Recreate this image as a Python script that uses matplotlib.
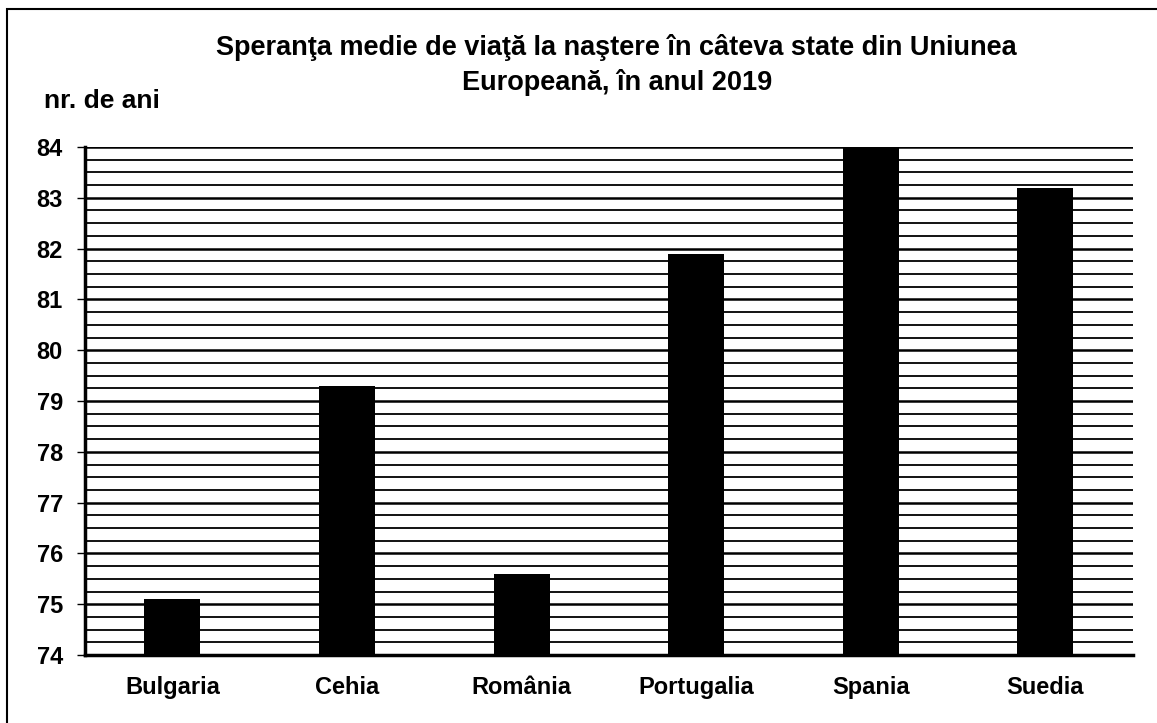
import matplotlib.pyplot as plt
from matplotlib.ticker import MultipleLocator
from matplotlib.patches import Rectangle

countries = ['Bulgaria', 'Cehia', 'România', 'Portugalia', 'Spania', 'Suedia']
values = [75.1, 79.3, 75.6, 81.9, 84.0, 83.2]

plt.rcParams['font.family'] = ['Liberation Sans', 'DejaVu Sans']
plt.rcParams['font.weight'] = 'bold'

fig = plt.figure(figsize=(11.57, 7.23), dpi=100)
ax = fig.add_axes([0.0735, 0.094, 0.9055, 0.7027])

# outer frame (only left/top visible in the original)
fig.patches.append(Rectangle((0.006, -0.1), 1.2, 1.088, transform=fig.transFigure,
                             fill=False, edgecolor='black', linewidth=1.5))

x = range(len(countries))
ax.bar(x, values, width=0.32, color='black', bottom=0)
ax.set_xlim(-0.5, len(countries) - 0.5)
ax.set_ylim(74, 84)

ax.yaxis.set_major_locator(MultipleLocator(1))
ax.yaxis.set_minor_locator(MultipleLocator(0.25))
ax.grid(True, which='major', axis='y', color='black', linewidth=1.8)
ax.grid(True, which='minor', axis='y', color='black', linewidth=1.3)
ax.set_axisbelow(True)

ax.set_xticks(list(x))
ax.set_xticklabels(countries, fontsize=17, fontweight='bold')
ax.tick_params(axis='x', length=0, pad=15)
ax.tick_params(axis='y', which='major', length=6, width=1, labelsize=17, pad=10)
ax.tick_params(axis='y', which='minor', length=0)
for lab in ax.get_yticklabels():
    lab.set_fontweight('bold')

ax.spines['top'].set_visible(False)
ax.spines['right'].set_visible(False)
ax.spines['left'].set_linewidth(2.5)
ax.spines['bottom'].set_linewidth(2.5)

fig.text(0.533, 0.910, 'Speranţa medie de viaţă la naştere în câteva state din Uniunea\nEuropeană, în anul 2019',
         ha='center', va='center', fontsize=19.5, fontweight='bold', linespacing=1.35)
fig.text(0.038, 0.860, 'nr. de ani', ha='left', va='center', fontsize=19, fontweight='bold')

fig.savefig('out.png', dpi=100)
